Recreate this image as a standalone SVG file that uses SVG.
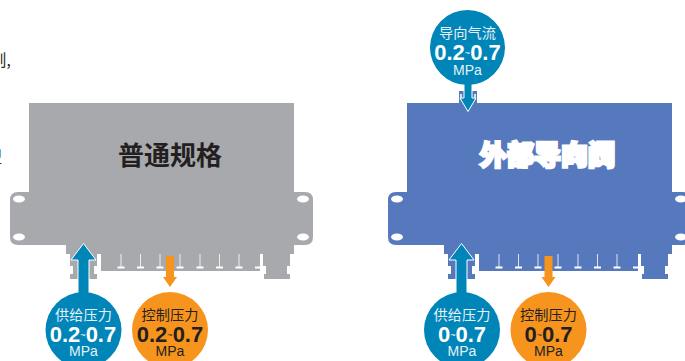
<svg xmlns="http://www.w3.org/2000/svg" width="685" height="361" viewBox="0 0 685 361">
<style>
.lb{font-family:"Noto Sans CJK SC","Liberation Sans",sans-serif;font-size:14.2px;text-anchor:middle}
.num{font-family:"Liberation Sans",Arial,sans-serif;font-size:22px;font-weight:700;text-anchor:middle}
.til{font-size:9px;font-weight:400}
.un{font-family:"Liberation Sans",Arial,sans-serif;font-size:14px;text-anchor:middle}
.w{fill:#e6f2f7}
.wb{fill:#fff}
.k{fill:#231f20}
.teal{fill:#0085b8}
.org{fill:#f7941d}
.tt{font-family:"Noto Sans CJK SC",sans-serif;font-size:26px;font-weight:700;text-anchor:middle}
.hole{fill:#fff}
.tick{stroke:#fff;stroke-width:0.8;fill:none}
.cross{stroke:#fff;stroke-width:2;fill:none}
.edge{font-family:"Noto Sans CJK SC",sans-serif;font-size:15.500px;fill:#231f20}
</style>
<defs>
<g id="dev">
<path d="M29 103H294V192H305Q313 192 313 200V237Q313 245 305 245H294V254H290V266H287V274H290V279H264V274H266V266H263V254H260V271H101V254H97V266H94V274H97V279H70V274H73V266H70V254H66V245H18Q10 245 10 237V200Q10 192 18 192H29Z"/>
<ellipse class="hole" cx="19" cy="199" rx="6" ry="3.500"/>
<ellipse class="hole" cx="19" cy="237" rx="6" ry="3.500"/>
<ellipse class="hole" cx="303" cy="199" rx="6" ry="3.500"/>
<ellipse class="hole" cx="303" cy="237" rx="6" ry="3.500"/>
<path class="tick" d="M121 254V268M140.500 254V268M160 254V268M180 254V268M200 254V268M219.500 254V268M239 254V268"/>
<path class="cross" d="M117.500 267.500H124.500M137 267.500H144M156.500 267.500H163.500M176.500 267.500H183.500M196.500 267.500H203.500M216 267.500H223M235.500 267.500H242.500M255 267.500H260"/>
</g>
</defs>
<text class="edge" x="-9" y="66">则,</text>
<text class="edge" x="-13.500" y="163">型</text>
<g id="device-standard" fill="#a7a9ac">
<use href="#dev"/>
<text class="tt k" x="170" y="165">普通规格</text>
</g>
<g id="device-external" fill="#5679bd">
<use href="#dev" x="378"/>
<text class="tt" x="547.500" y="165" fill="#fff" stroke="#fff" stroke-width="3" style="font-size:27px">外部导向阀</text>
<path d="M459 91H477V103H459Z"/>
<path d="M461 94V100M475 94V100" stroke="#fff" stroke-width="1.500" fill="none"/>
</g>
<g id="connectors" stroke="#fff" stroke-width="1" stroke-linejoin="miter">
<path class="teal" d="M83.500 243.500L96 260H89V296H78V260H71Z"/>
<path class="org" d="M166 256H174V277H177L170 287L163 277H166Z" stroke="none"/>
<path class="teal" d="M461.500 243.500L474 260H467V296H456V260H449Z"/>
<path class="org" d="M544.500 256H552.500V277H555.500L548.500 287L541.500 277H544.500Z" stroke="none"/>
<path class="teal" d="M468 111.500L476 98H472V80H464V98H460Z"/>
</g>
<g id="node-supply-left">
<circle class="teal" cx="83.500" cy="330" r="38"/>
<text class="lb w" x="83.500" y="320">供给压力</text>
<text class="num wb" x="83" y="342">0.2<tspan class="til" dy="-4">~</tspan><tspan dy="4">0.7</tspan></text>
<text class="un w" x="83.500" y="356">MPa</text>
</g>
<g id="node-control-left">
<circle class="org" cx="170" cy="330" r="38"/>
<text class="lb k" x="170" y="320">控制压力</text>
<text class="num k" x="170" y="342">0.2<tspan class="til" dy="-4">~</tspan><tspan dy="4">0.7</tspan></text>
<text class="un k" x="170" y="356">MPa</text>
</g>
<g id="node-supply-right">
<circle class="teal" cx="462" cy="330" r="38"/>
<text class="lb w" x="462" y="320">供给压力</text>
<text class="num wb" x="462" y="342">0<tspan class="til" dy="-4">~</tspan><tspan dy="4">0.7</tspan></text>
<text class="un w" x="462" y="356">MPa</text>
</g>
<g id="node-control-right">
<circle class="org" cx="548.500" cy="330" r="38"/>
<text class="lb k" x="548.500" y="320">控制压力</text>
<text class="num k" x="548.500" y="342">0<tspan class="til" dy="-4">~</tspan><tspan dy="4">0.7</tspan></text>
<text class="un k" x="548.500" y="356">MPa</text>
</g>
<g id="node-pilot">
<circle class="teal" cx="467.500" cy="47.500" r="37.500"/>
<text class="lb w" x="467.500" y="38">导向气流</text>
<text class="num wb" x="467.500" y="60">0.2<tspan class="til" dy="-4">~</tspan><tspan dy="4">0.7</tspan></text>
<text class="un w" x="467.500" y="75">MPa</text>
</g>
</svg>
